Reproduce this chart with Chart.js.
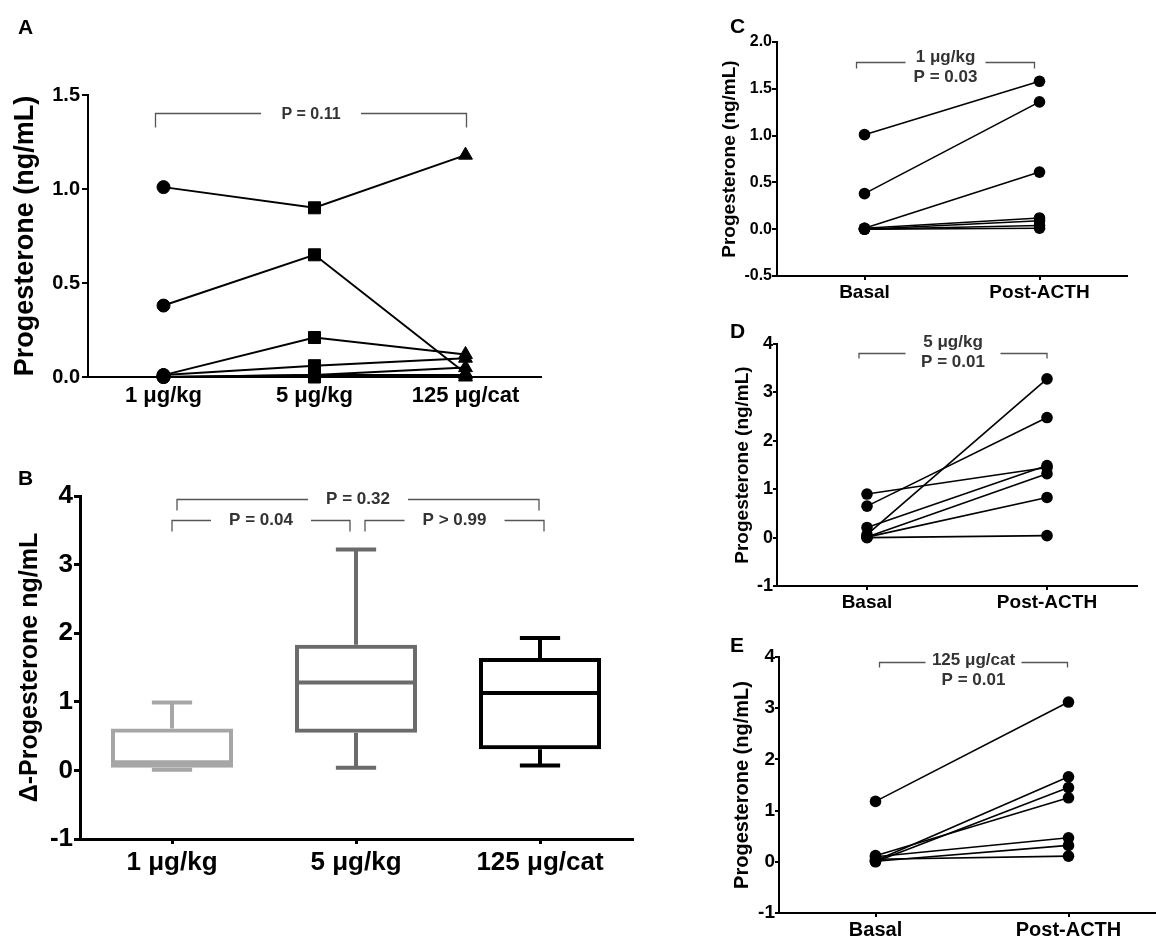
<!DOCTYPE html>
<html><head><meta charset="utf-8">
<script src="https://cdn.jsdelivr.net/npm/chart.js@4.4.1/dist/chart.umd.min.js"></script>
<style>
html,body{margin:0;padding:0;background:#fff;overflow:hidden;width:1156px;height:940px}
canvas{position:absolute;display:block}
</style></head><body>
<canvas id="cA" width="560" height="420" style="left:0;top:0"></canvas>
<canvas id="cB" width="650" height="500" style="left:0;top:440px"></canvas>
<canvas id="cC" width="440" height="310" style="left:700px;top:0"></canvas>
<canvas id="cD" width="450" height="310" style="left:700px;top:310px"></canvas>
<canvas id="cE" width="480" height="320" style="left:700px;top:620px"></canvas>
<script>
// ---------- data ----------
const doseLabels = ['1 μg/kg', '5 μg/kg', '125 μg/cat'];
const phaseLabels = ['Basal', 'Post-ACTH'];
// progesterone (ng/mL), same cat order in every array
const basal1   = [1.01, 0.38, 0.01, 0.01, 0.00, 0.00, 0.00];
const post1    = [1.58, 1.36, 0.61, 0.12, 0.09, 0.04, 0.01];
const basal5   = [0.90, 0.65, 0.21, 0.06, 0.01, 0.01, 0.00];
const post5    = [1.45, 2.48, 1.49, 3.28, 1.32, 0.83, 0.04];
const basal125 = [1.18, 0.02, 0.12, 0.10, 0.05, 0.01, 0.00];
const post125  = [3.12, 1.66, 1.25, 0.47, 0.11, 0.32, 1.45];
// panel B: Δ-progesterone box statistics
const boxMin    = [0.01, 0.04, 0.07];
const boxQ1     = [0.04, 0.55, 0.31];
const boxMedian = [0.12, 1.28, 1.13];
const boxQ3     = [0.61, 1.83, 1.64];
const boxMax    = [0.99, 3.22, 1.93];
// tick values
const yTicksA = [0, 0.5, 1.0, 1.5];
const yTicksB = [-1, 0, 1, 2, 3, 4];
const yTicksC = [-0.5, 0, 0.5, 1.0, 1.5, 2.0];
const yTicksDE = [-1, 0, 1, 2, 3, 4];

// ---------- styling ----------
const FONT = "'Liberation Sans', Arial, Helvetica, sans-serif";
const boxColors = ['#a6a6a6', '#6b6b6b', '#000000'];
Chart.defaults.font.family = FONT;
Chart.defaults.color = '#000';
Chart.defaults.animation = false;
Chart.defaults.responsive = false;
Chart.defaults.plugins.legend.display = false;
Chart.defaults.plugins.tooltip.enabled = false;

const annotate = {
  id: 'annotate',
  afterDraw(chart, args, opts) {
    const ctx = chart.ctx, xs = chart.scales.x, ys = chart.scales.y;
    ctx.save();
    if (opts.label) {
      ctx.font = 'bold 21px ' + FONT;
      ctx.fillStyle = '#000';
      ctx.textAlign = 'left';
      ctx.textBaseline = 'alphabetic';
      ctx.fillText(opts.label.text, opts.label.x, opts.label.y);
    }
    (opts.brackets || []).forEach(b => {
      const x1 = xs.getPixelForValue(b.from) + b.dx1;
      const x2 = xs.getPixelForValue(b.to) + b.dx2;
      const y = Math.round(ys.getPixelForValue(b.y)) + 0.5;
      const xm = (x1 + x2) / 2;
      ctx.strokeStyle = '#555';
      ctx.lineWidth = 1.3;
      ctx.beginPath();
      ctx.moveTo(x1, y + b.drop); ctx.lineTo(x1, y); ctx.lineTo(xm - b.gap / 2, y);
      ctx.moveTo(xm + b.gap / 2, y); ctx.lineTo(x2, y); ctx.lineTo(x2, y + b.drop);
      ctx.stroke();
      ctx.fillStyle = '#333';
      ctx.font = 'bold ' + b.size + 'px ' + FONT;
      ctx.textAlign = 'center';
      ctx.textBaseline = 'middle';
      b.lines.forEach((t, k) => ctx.fillText(t, xm + (b.tdx || 0), y + b.dy[k]));
    });
    ctx.restore();
  }
};

const whiskers = {
  id: 'whiskers',
  afterDatasetsDraw(chart) {
    const ctx = chart.ctx, ys = chart.scales.y;
    const meta = chart.getDatasetMeta(0);
    ctx.save();
    ctx.lineWidth = 4;
    ctx.lineCap = 'butt';
    boxMedian.forEach((m, i) => {
      const bar = meta.data[i];
      const x = bar.x, hw = bar.width / 2, cap = bar.width * 0.165;
      const ym = ys.getPixelForValue(m);
      const yq1 = ys.getPixelForValue(boxQ1[i]), yq3 = ys.getPixelForValue(boxQ3[i]);
      const ymin = ys.getPixelForValue(boxMin[i]), ymax = ys.getPixelForValue(boxMax[i]);
      ctx.strokeStyle = boxColors[i];
      ctx.beginPath();
      ctx.moveTo(x - hw + 2, ym); ctx.lineTo(x + hw - 2, ym);
      ctx.moveTo(x, yq3); ctx.lineTo(x, ymax);
      ctx.moveTo(x - cap, ymax); ctx.lineTo(x + cap, ymax);
      ctx.moveTo(x, yq1); ctx.lineTo(x, ymin);
      ctx.moveTo(x - cap, ymin); ctx.lineTo(x + cap, ymin);
      ctx.stroke();
    });
    ctx.restore();
  }
};

function yAxis(o) {
  return {
    type: 'linear', min: o.min, max: o.max,
    afterBuildTicks: s => { s.ticks = o.ticks.map(v => ({ value: v })); },
    afterFit: s => { s.width = o.width; },
    ticks: { color: '#000', font: { size: o.tickSize, weight: 'bold' }, padding: o.pad,
             callback: v => o.dec ? Number(v).toFixed(o.dec) : String(v) },
    grid: { display: true, drawOnChartArea: false, drawTicks: true, tickLength: o.tl, color: '#000', lineWidth: o.lw },
    border: { display: true, color: '#000', width: o.lw },
    title: { display: true, text: o.title, color: '#000', font: { size: o.titleSize, weight: 'bold' },
             padding: { top: o.titlePad, bottom: 0 } }
  };
}
function xAxis(o) {
  return {
    type: 'category', offset: true,
    afterFit: s => { s.height = o.height; },
    ticks: { color: '#000', font: { size: o.size, weight: 'bold' }, padding: o.pad, maxRotation: 0, minRotation: 0, autoSkip: false },
    grid: { display: true, drawOnChartArea: false, drawTicks: o.tl > 0, tickLength: o.tl, color: '#000', lineWidth: o.lw, offset: false },
    border: { display: true, color: '#000', width: o.lw }
  };
}

// ---------- Panel A ----------
new Chart(document.getElementById('cA'), {
  type: 'line',
  data: {
    labels: doseLabels,
    datasets: basal1.map((v, i) => ({
      data: [basal1[i], basal5[i], basal125[i]],
      borderColor: '#000', borderWidth: 2, tension: 0, clip: false,
      pointStyle: ['circle', 'rect', 'triangle'], pointRadius: [6.5, 8.5, 8],
      pointBackgroundColor: '#000', pointBorderColor: '#000', pointBorderWidth: 1
    }))
  },
  options: {
    layout: { padding: { left: 0, right: 19, top: 95, bottom: 0 } },
    scales: {
      x: xAxis({ height: 43, size: 22, pad: 6, tl: 0, lw: 2 }),
      y: yAxis({ min: 0, max: 1.5, ticks: yTicksA, dec: 1, width: 88, tickSize: 20, pad: 2, tl: 6, lw: 2,
                 title: 'Progesterone (ng/mL)', titleSize: 27, titlePad: 9 })
    },
    plugins: { annotate: { label: { text: 'A', x: 18, y: 34 },
      brackets: [{ from: 0, to: 2, dx1: -8, dx2: 1, y: 1.404, drop: 14, gap: 100, size: 16, lines: ['P = 0.11'], dy: [1] }] } }
  },
  plugins: [annotate]
});

// ---------- Panel B ----------
new Chart(document.getElementById('cB'), {
  type: 'bar',
  data: {
    labels: doseLabels,
    datasets: [{
      data: boxQ1.map((q, i) => [q, boxQ3[i]]),
      backgroundColor: 'rgba(255,255,255,0)', borderColor: boxColors, borderWidth: 4,
      borderSkipped: false, barPercentage: 0.663, categoryPercentage: 1
    }]
  },
  options: {
    layout: { padding: { left: 0, right: 18, top: 56, bottom: 0 } },
    scales: {
      x: xAxis({ height: 101, size: 26, pad: 3, tl: 5, lw: 3 }),
      y: yAxis({ min: -1, max: 4, ticks: yTicksB, dec: 0, width: 80, tickSize: 26, pad: 1, tl: 6, lw: 3,
                 title: 'Δ-Progesterone ng/mL', titleSize: 25, titlePad: 15 })
    },
    plugins: { annotate: { label: { text: 'B', x: 18, y: 45 },
      brackets: [
        { from: 0, to: 2, dx1: 5, dx2: -1, y: 3.958, drop: 11, gap: 100, size: 17, lines: ['P = 0.32'], dy: [0] },
        { from: 0, to: 1, dx1: 0, dx2: -6, y: 3.652, drop: 11, gap: 100, size: 17, lines: ['P = 0.04'], dy: [0] },
        { from: 1, to: 2, dx1: 9, dx2: 4, y: 3.652, drop: 11, gap: 100, size: 17, lines: ['P > 0.99'], dy: [0] }
      ] } }
  },
  plugins: [whiskers, annotate]
});

// ---------- Panels C, D, E ----------
function pairChart(id, basal, post, o) {
  new Chart(document.getElementById(id), {
    type: 'line',
    data: {
      labels: phaseLabels,
      datasets: basal.map((v, i) => ({
        data: [basal[i], post[i]],
        borderColor: '#000', borderWidth: 1.6, tension: 0, clip: false,
        pointStyle: 'circle', pointRadius: 5.8, pointBackgroundColor: '#000', pointBorderWidth: 0
      }))
    },
    options: {
      layout: { padding: o.padding },
      scales: { x: xAxis(o.x), y: yAxis(o.y) },
      plugins: { annotate: { label: o.label, brackets: [o.bracket] } }
    },
    plugins: [annotate]
  });
}

pairChart('cC', basal1, post1, {
  padding: { left: 0, right: 13, top: 42, bottom: 0 },
  x: { height: 34, size: 19, pad: 1, tl: 4, lw: 2 },
  y: { min: -0.5, max: 2, ticks: yTicksC, dec: 1, width: 77, tickSize: 16, pad: 0, tl: 5, lw: 2,
       title: 'Progesterone (ng/mL)', titleSize: 19, titlePad: 18 },
  label: { text: 'C', x: 30, y: 33 },
  bracket: { from: 0, to: 1, dx1: -8, dx2: -5, y: 1.786, drop: 6, gap: 80, size: 17, lines: ['1 μg/kg', 'P = 0.03'], dy: [-5, 15] }
});
pairChart('cD', basal5, post5, {
  padding: { left: 0, right: 13, top: 34, bottom: 0 },
  x: { height: 34, size: 19, pad: 1, tl: 4, lw: 2 },
  y: { min: -1, max: 4, ticks: yTicksDE, dec: 0, width: 77, tickSize: 18, pad: 0, tl: 4, lw: 2,
       title: 'Progesterone (ng/mL)', titleSize: 19, titlePad: 31 },
  label: { text: 'D', x: 30, y: 28 },
  bracket: { from: 0, to: 1, dx1: -8, dx2: 0, y: 3.81, drop: 5, gap: 95, size: 17, lines: ['5 μg/kg', 'P = 0.01'], dy: [-11, 9] }
});
pairChart('cE', basal125, post125, {
  padding: { left: 0, right: 15, top: 37, bottom: 0 },
  x: { height: 27, size: 20, pad: 1, tl: 4, lw: 2 },
  y: { min: -1, max: 4, ticks: yTicksDE, dec: 0, width: 79, tickSize: 19, pad: 0, tl: 4, lw: 2,
       title: 'Progesterone (ng/mL)', titleSize: 20, titlePad: 30 },
  label: { text: 'E', x: 30, y: 32 },
  bracket: { from: 0, to: 1, dx1: 4, dx2: -1, y: 3.90, drop: 5, gap: 96, size: 17, lines: ['125 μg/cat', 'P = 0.01'], dy: [-2, 18] }
});
</script>
</body></html>
